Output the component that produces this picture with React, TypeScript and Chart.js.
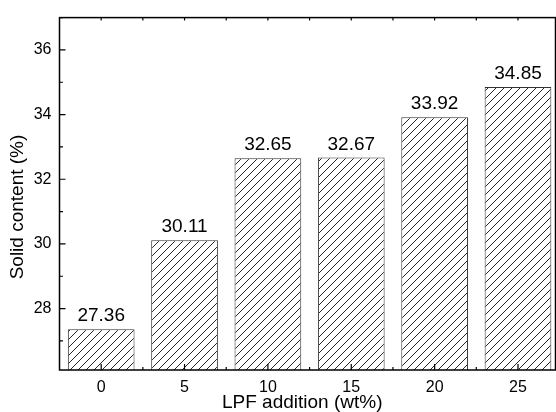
import React, { useEffect, useRef } from "react";
import { Chart, registerables } from "chart.js";

Chart.register(...registerables);

const categories = [0, 5, 10, 15, 20, 25];
const solidContent = [27.36, 30.11, 32.65, 32.67, 33.92, 34.85];
const yTickValues = [28, 30, 32, 34, 36];
const yMinorTicks = [27, 29, 31, 33, 35, 37];
const xMinorTicks = [-2.5, 2.5, 7.5, 12.5, 17.5, 22.5, 27.5];

const FONT = "'Liberation Sans', Arial, sans-serif";

function makeHatch(): CanvasPattern | string {
  const tile = document.createElement("canvas");
  tile.width = 8;
  tile.height = 8;
  const c = tile.getContext("2d");
  if (!c) return "#fff";
  c.fillStyle = "#fff";
  c.fillRect(0, 0, 8, 8);
  c.strokeStyle = "#262626";
  c.lineWidth = 1;
  c.beginPath();
  c.moveTo(0, 8);
  c.lineTo(8, 0);
  c.moveTo(-1, 1);
  c.lineTo(1, -1);
  c.moveTo(7, 9);
  c.lineTo(9, 7);
  c.stroke();
  const p = c.createPattern(tile, "repeat");
  return p || "#fff";
}

const framePlugin = {
  id: "frame",
  afterDraw(chart: any) {
    const { ctx, chartArea } = chart;
    const { left, right, top, bottom } = chartArea;
    const xs = chart.scales.x;
    const ys = chart.scales.y;
    ctx.save();
    ctx.strokeStyle = "#000";
    ctx.lineWidth = 1.5;
    ctx.strokeRect(left, top, right - left, bottom - top);
    ctx.lineWidth = 1.2;
    ctx.beginPath();
    yTickValues.forEach((v) => {
      const y = ys.getPixelForValue(v);
      ctx.moveTo(left, y);
      ctx.lineTo(left + 6, y);
    });
    yMinorTicks.forEach((v) => {
      const y = ys.getPixelForValue(v);
      if (y < top || y > bottom) return;
      ctx.moveTo(left, y);
      ctx.lineTo(left + 3.5, y);
    });
    categories.forEach((v) => {
      const x = xs.getPixelForValue(v);
      ctx.moveTo(x, bottom);
      ctx.lineTo(x, bottom - 6);
      ctx.moveTo(x, top);
      ctx.lineTo(x, top + 3);
    });
    xMinorTicks.forEach((v) => {
      const x = xs.getPixelForValue(v);
      if (x < left + 1 || x > right - 1) return;
      ctx.moveTo(x, bottom);
      ctx.lineTo(x, bottom - 3);
      ctx.moveTo(x, top);
      ctx.lineTo(x, top + 3);
    });
    ctx.stroke();
    ctx.restore();
  },
};

const valueLabelPlugin = {
  id: "valueLabels",
  afterDatasetsDraw(chart: any) {
    const { ctx } = chart;
    const meta = chart.getDatasetMeta(0);
    ctx.save();
    ctx.fillStyle = "#000";
    ctx.font = `19px ${FONT}`;
    ctx.textAlign = "center";
    ctx.textBaseline = "alphabetic";
    meta.data.forEach((bar: any, i: number) => {
      ctx.fillText(solidContent[i].toFixed(2), bar.x, bar.y - 8);
    });
    ctx.restore();
  },
};

export default function App() {
  const ref = useRef<HTMLCanvasElement | null>(null);

  useEffect(() => {
    document.body.style.margin = "0";
    if (!ref.current) return;
    const hatch = makeHatch();
    const chart = new Chart(ref.current, {
      type: "bar",
      data: {
        datasets: [
          {
            data: categories.map((c, i) => ({ x: c, y: solidContent[i] })),
            backgroundColor: hatch as any,
            borderColor: "#333",
            borderWidth: 1,
            barPercentage: 0.8,
            categoryPercentage: 1,
          },
        ],
      },
      options: {
        animation: false,
        responsive: false,
        maintainAspectRatio: false,
        layout: { padding: { left: 0, top: 15, right: 0.5, bottom: 0 } },
        plugins: {
          legend: { display: false },
          tooltip: { enabled: false },
        },
        scales: {
          x: {
            type: "linear",
            offset: false,
            min: -2.5,
            max: 27.25,
            grid: { display: false, drawTicks: false, offset: false },
            border: { display: false },
            afterBuildTicks: (scale: any) => {
              scale.ticks = categories.map((v) => ({ value: v }));
            },
            afterFit: (scale: any) => {
              scale.height = 42;
            },
            ticks: {
              color: "#000",
              font: { family: FONT, size: 16 },
              padding: 8,
              maxRotation: 0,
              autoSkip: false,
            },
            title: {
              display: true,
              text: "LPF addition (wt%)  ",
              color: "#000",
              font: { family: FONT, size: 19, lineHeight: 1 },
              padding: { top: 0, bottom: 0 },
            },
          },
          y: {
            min: 26.1,
            max: 37,
            grid: { display: false, drawTicks: false },
            border: { display: false },
            afterBuildTicks: (scale: any) => {
              scale.ticks = yTickValues.map((v) => ({ value: v }));
            },
            afterFit: (scale: any) => {
              scale.width = 59.5;
            },
            ticks: {
              color: "#000",
              font: { family: FONT, size: 16 },
              padding: 8,
            },
            title: {
              display: true,
              text: "Solid content (%)     ",
              color: "#000",
              font: { family: FONT, size: 19, lineHeight: 1 },
              padding: { top: 8, bottom: 0 },
            },
          },
        },
      },
      plugins: [valueLabelPlugin, framePlugin],
    });
    return () => chart.destroy();
  }, []);

  return (
    <div style={{ width: 556, height: 412 }}>
      <canvas ref={ref} width={556} height={412} style={{ display: "block" }} />
    </div>
  );
}
